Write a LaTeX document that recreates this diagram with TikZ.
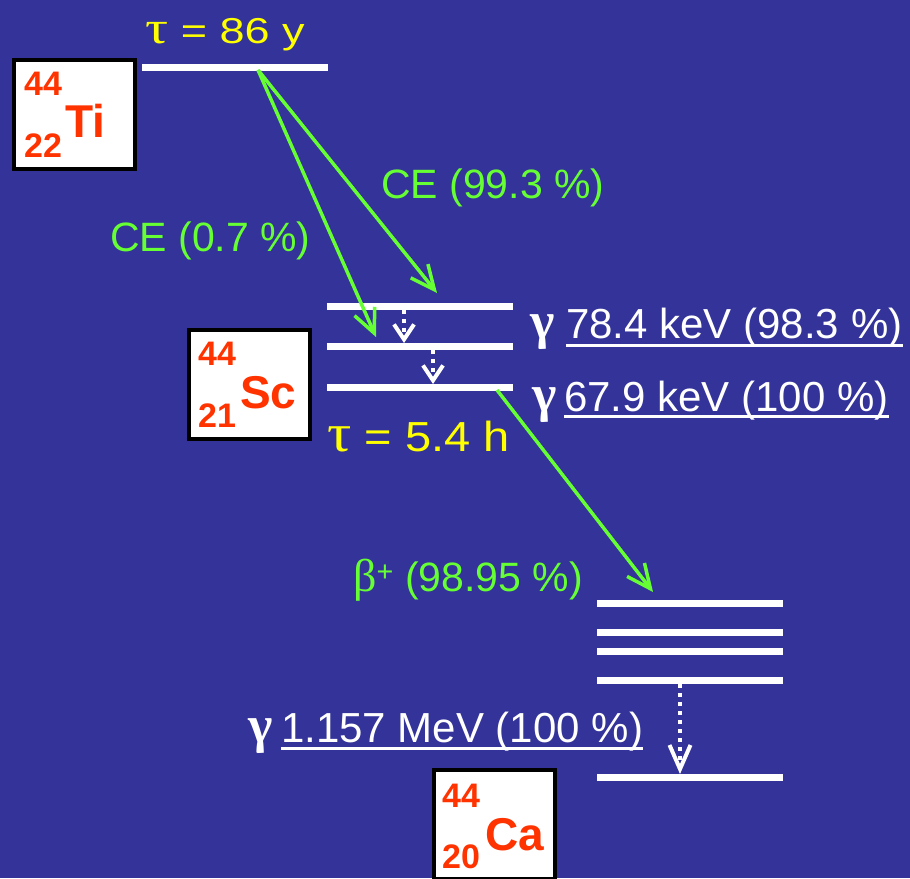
\documentclass[tikz,border=0pt]{standalone}
\usepackage{fontspec}
\setmainfont{Liberation Sans}
\newfontfamily\grk{Liberation Serif}
\usetikzlibrary{arrows.meta}

\begin{document}
\begin{tikzpicture}[x=1pt,y=-1pt,
  livello/.style={white, line width=7pt},
  decad/.style={colVerde, line width=3.5pt, -{Straight Barb[length=24pt,width=22pt]}},
  transiz/.style={white, line width=4pt, dash pattern=on 4pt off 5pt, -{Straight Barb[length=15pt,width=20pt]}},
  nucl/.style={draw=black, line width=4pt, fill=white, minimum width=121pt, minimum height=109pt, inner sep=0pt},
  testo/.style={anchor=base west, inner sep=0pt},
  etVerde/.style={testo, text=colVerde, font=\fontsize{41}{48}\selectfont},
  etGamma/.style={testo, text=white, font=\fontsize{42}{48}\selectfont},
  simbGamma/.style={testo, text=white, font=\grk\bfseries\fontsize{52}{58}\selectfont},
  etVita/.style={testo, text=colGiallo},
  massa/.style={testo, text=colNucl, font=\bfseries\fontsize{34}{40}\selectfont},
  simbolo/.style={testo, text=colNucl, font=\bfseries\fontsize{46}{52}\selectfont},
  sottolin/.style={white, line width=3pt}]

% Colori
\definecolor{colSfondo}{HTML}{333399}
\definecolor{colVerde}{HTML}{66FF33}
\definecolor{colGiallo}{HTML}{FFFF00}
\definecolor{colNucl}{HTML}{FF3300}

% Sfondo
\fill[colSfondo] (0,0) rectangle (910,878);
\useasboundingbox (0,0) rectangle (910,878);
\clip (0,0) rectangle (910,878);

% Livelli
\draw[livello] (142,67) -- (328,67);
\draw[livello] (327,306) -- (513,306);
\draw[livello] (327,346) -- (513,346);
\draw[livello] (327,387) -- (513,387);
\draw[livello] (597,603) -- (783,603);
\draw[livello] (597,632) -- (783,632);
\draw[livello] (597,651) -- (783,651);
\draw[livello] (597,680) -- (783,680);
\draw[livello] (597,777) -- (783,777);

% Nuclei
\node[nucl] (ti) at (74.5,114) {};
\node[massa] (tiA) at (24,95) {44};
\node[massa] (tiZ) at (24,157) {22};
\node[simbolo] (tiS) at (65,137) {Ti};

\node[nucl] (sc) at (249.5,384) {};
\node[massa] (scA) at (198,365) {44};
\node[massa] (scZ) at (198,427) {21};
\node[simbolo] (scS) at (240,408) {Sc};

\node[nucl] (ca) at (494,824.5) {};
\node[massa] (caA) at (442,807) {44};
\node[massa] (caZ) at (442,868) {20};
\node[simbolo] (caS) at (485,850) {Ca};

% Vite medie
\node[etVita, font=\fontsize{36}{42}\selectfont] (vitaTi) at (145,43)
  {\scalebox{1.25}[1]{{\grk\fontsize{46}{46}\selectfont τ} = 86 y}};
\node[etVita, font=\fontsize{42}{48}\selectfont] (vitaSc) at (327,451)
  {\scalebox{1.12}[1]{{\grk\fontsize{54}{54}\selectfont τ} = 5.4 h}};

% Decadimenti
\coordinate (tiDec) at (258,70);
\coordinate (scAlto) at (437,293);
\coordinate (scMedio) at (376,337);
\coordinate (scDec) at (497,390);
\coordinate (caAlto) at (653,592);
\draw[decad] (tiDec) -- (scAlto);
\draw[decad] (tiDec) -- (scMedio);
\draw[decad] (scDec) -- (caAlto);

\node[etVerde] (ce1) at (381,198) {CE (99.3 \%)};
\node[etVerde] (ce2) at (110,251) {CE (0.7 \%)};
\node[etVerde] (beta) at (353,591) {{\grk\fontsize{46}{46}\selectfont β}\textsuperscript{+} (98.95 \%)};

% Transizioni gamma
\coordinate (g1a) at (404,310);
\coordinate (g1b) at (404,343);
\coordinate (g2a) at (433,350);
\coordinate (g2b) at (433,384);
\coordinate (g3a) at (680,684);
\coordinate (g3b) at (680,774);
\draw[transiz] (g1a) -- (g1b);
\draw[transiz] (g2a) -- (g2b);
\draw[transiz, -{Straight Barb[length=24pt,width=21pt]}] (g3a) -- (g3b);

\node[simbGamma] (gam1) at (530,338) {γ};
\node[etGamma] (gl1) at (566,338) {78.4 keV (98.3 \%)};
\node[simbGamma] (gam2) at (532,411) {γ};
\node[etGamma] (gl2) at (564,411) {67.9 keV (100 \%)};
\node[simbGamma] (gam3) at (248,742) {γ};
\node[etGamma] (gl3) at (281,742) {1.157 MeV (100 \%)};
\draw[sottolin] ([yshift=-7pt]gl1.base west) -- ([yshift=-7pt]gl1.base east);
\draw[sottolin] ([yshift=-5pt]gl2.base west) -- ([yshift=-5pt]gl2.base east);
\draw[sottolin] ([yshift=-6pt]gl3.base west) -- ([yshift=-6pt]gl3.base east);
\end{tikzpicture}
\end{document}
